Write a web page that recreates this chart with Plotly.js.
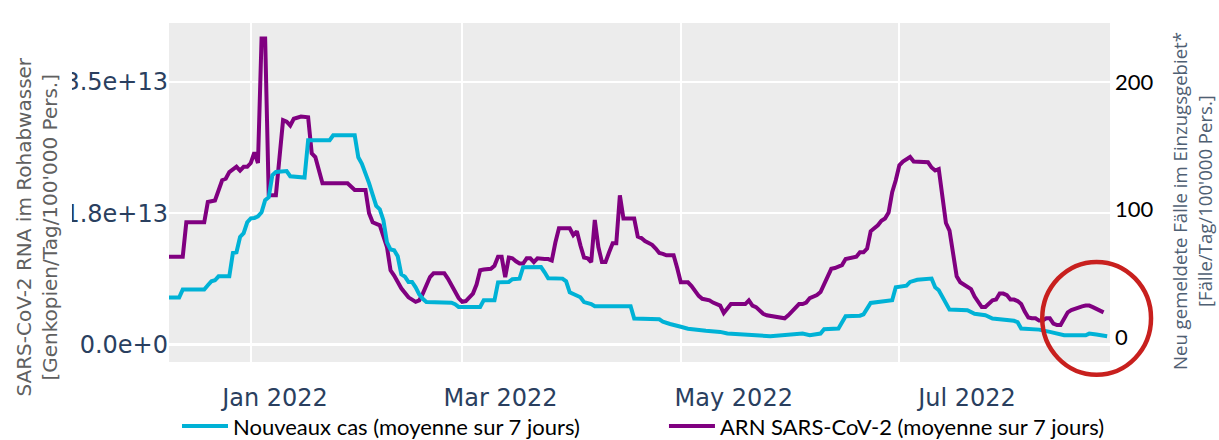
<!DOCTYPE html>
<html>
<head>
<meta charset="utf-8">
<script src="https://cdn.plot.ly/plotly-3.0.1.min.js"></script>
<style>html,body{margin:0;padding:0;background:#fff;}#chart{width:1219px;height:440px;}</style>
</head>
<body>
<div id="chart"></div>
<script>
// ---- Data ----
const casesDates = ['2021-12-09','2021-12-12','2021-12-13','2021-12-19','2021-12-20','2021-12-21','2021-12-22','2021-12-23','2021-12-26','2021-12-27','2021-12-28','2021-12-29','2021-12-30','2021-12-31',
'2022-01-01','2022-01-02','2022-01-03','2022-01-04','2022-01-05','2022-01-06','2022-01-07','2022-01-08','2022-01-11','2022-01-12','2022-01-16','2022-01-17','2022-01-23','2022-01-24','2022-01-30','2022-01-31',
'2022-02-01','2022-02-02','2022-02-03','2022-02-04','2022-02-05','2022-02-06','2022-02-07','2022-02-08','2022-02-09','2022-02-10','2022-02-11','2022-02-12','2022-02-13','2022-02-14','2022-02-15','2022-02-16','2022-02-17','2022-02-18','2022-02-19','2022-02-26','2022-02-27','2022-02-28',
'2022-03-06','2022-03-07','2022-03-10','2022-03-11','2022-03-14','2022-03-15','2022-03-17','2022-03-18','2022-03-23','2022-03-24','2022-03-25','2022-03-29','2022-03-30','2022-03-31',
'2022-04-01','2022-04-02','2022-04-03','2022-04-04','2022-04-05','2022-04-06','2022-04-07','2022-04-17','2022-04-18','2022-04-24','2022-04-25','2022-04-26','2022-04-27','2022-04-28',
'2022-05-01','2022-05-03','2022-05-08','2022-05-12','2022-05-14','2022-05-26',
'2022-06-04','2022-06-06','2022-06-09','2022-06-10','2022-06-14','2022-06-16','2022-06-20','2022-06-21','2022-06-23','2022-06-27','2022-06-29','2022-06-30',
'2022-07-03','2022-07-04','2022-07-06','2022-07-10','2022-07-11','2022-07-12','2022-07-13','2022-07-14','2022-07-15','2022-07-20','2022-07-22','2022-07-25','2022-07-27',
'2022-08-02','2022-08-03','2022-08-04','2022-08-09','2022-08-12','2022-08-16','2022-08-22','2022-08-23','2022-08-25','2022-08-27','2022-08-28'];
const casesValues = [31.1,31.1,37.4,37.4,40.8,43.9,44.7,47.8,47.8,66.1,66.7,78.7,81.6,90.2,
93.3,93.6,94.9,98.0,107.5,109.8,127.0,129.6,130.4,126.3,125.3,154.5,154.5,158.4,158.4,141.2,
136.1,129.4,120.9,111.9,103.0,100.4,91.8,74.5,68.8,68.2,63.5,49.4,47.5,43.4,43.4,39.2,33.7,30.2,27.7,27.1,25.9,23.8,
23.8,29.0,29.0,43.1,43.4,45.5,46.0,54.9,55.1,51.0,46.3,46.0,43.9,35.3,
34.1,33.3,31.4,27.6,27.1,26.1,24.3,24.3,14.7,14.7,14.1,12.2,11.2,10.4,
8.2,6.7,5.1,4.2,2.9,0.8,
2.9,1.6,2.9,6.3,6.8,16.5,16.9,18.0,26.9,28.6,29.0,39.2,
40.5,43.4,45.1,46.0,39.2,36.9,32.2,26.7,21.7,21.2,18.4,17.3,14.7,
12.9,11.8,6.8,6.0,4.2,1.6,1.6,2.9,2.1,1.6,0.8];

const rnaDates = ['2021-12-09','2021-12-13','2021-12-14','2021-12-19','2021-12-20','2021-12-22','2021-12-24','2021-12-25','2021-12-26','2021-12-28','2021-12-29','2021-12-30','2021-12-31',
'2022-01-01','2022-01-02','2022-01-03','2022-01-04','2022-01-05','2022-01-06','2022-01-08','2022-01-10','2022-01-11','2022-01-12','2022-01-13','2022-01-15','2022-01-17','2022-01-18','2022-01-19','2022-01-21','2022-01-28','2022-01-30',
'2022-02-02','2022-02-03','2022-02-04','2022-02-06','2022-02-07','2022-02-08','2022-02-09','2022-02-10','2022-02-12','2022-02-13','2022-02-14','2022-02-16','2022-02-17','2022-02-18','2022-02-20','2022-02-21',
'2022-02-24','2022-02-25','2022-02-26','2022-02-27','2022-02-28',
'2022-03-01','2022-03-02','2022-03-03','2022-03-04','2022-03-05','2022-03-06','2022-03-07','2022-03-08','2022-03-09','2022-03-10','2022-03-11','2022-03-12','2022-03-13','2022-03-14','2022-03-15','2022-03-16','2022-03-17','2022-03-18','2022-03-19','2022-03-20','2022-03-21','2022-03-22','2022-03-23','2022-03-24','2022-03-25','2022-03-26','2022-03-27','2022-03-28','2022-03-29','2022-03-30','2022-03-31',
'2022-04-01','2022-04-02','2022-04-03','2022-04-04','2022-04-05','2022-04-06','2022-04-07','2022-04-08','2022-04-09','2022-04-10','2022-04-11','2022-04-12','2022-04-13','2022-04-14','2022-04-15','2022-04-16','2022-04-17','2022-04-18','2022-04-19','2022-04-20','2022-04-21','2022-04-22','2022-04-23','2022-04-24','2022-04-25','2022-04-26','2022-04-27','2022-04-28','2022-04-29','2022-04-30',
'2022-05-01','2022-05-02','2022-05-03','2022-05-04','2022-05-05','2022-05-06','2022-05-07','2022-05-08','2022-05-09','2022-05-10','2022-05-11','2022-05-12','2022-05-13','2022-05-14','2022-05-15','2022-05-16','2022-05-17','2022-05-18','2022-05-19','2022-05-20','2022-05-21','2022-05-22','2022-05-23','2022-05-24','2022-05-25','2022-05-26','2022-05-27','2022-05-28','2022-05-29','2022-05-30','2022-05-31',
'2022-06-01','2022-06-02','2022-06-03','2022-06-04','2022-06-05','2022-06-06','2022-06-07','2022-06-08','2022-06-09','2022-06-10','2022-06-11','2022-06-12','2022-06-13','2022-06-14','2022-06-15','2022-06-16','2022-06-17','2022-06-18','2022-06-19','2022-06-20','2022-06-21','2022-06-22','2022-06-23','2022-06-24','2022-06-25','2022-06-26','2022-06-27','2022-06-28','2022-06-29','2022-06-30',
'2022-07-01','2022-07-02','2022-07-03','2022-07-04','2022-07-05','2022-07-06','2022-07-07','2022-07-08','2022-07-09','2022-07-10','2022-07-11','2022-07-12','2022-07-13','2022-07-14','2022-07-15','2022-07-16','2022-07-17','2022-07-18','2022-07-19','2022-07-20','2022-07-21','2022-07-22','2022-07-23','2022-07-24','2022-07-25','2022-07-26','2022-07-27','2022-07-28','2022-07-29','2022-07-30','2022-07-31',
'2022-08-01','2022-08-02','2022-08-03','2022-08-04','2022-08-05','2022-08-06','2022-08-07','2022-08-08','2022-08-09','2022-08-10','2022-08-11','2022-08-12','2022-08-13','2022-08-14','2022-08-15','2022-08-16','2022-08-17','2022-08-18','2022-08-19','2022-08-20','2022-08-21','2022-08-22','2022-08-23','2022-08-24','2022-08-25','2022-08-26','2022-08-27'];
const rnaValues = [1.17e13,1.17e13,1.63e13,1.63e13,1.90e13,1.92e13,2.19e13,2.21e13,2.30e13,2.37e13,2.32e13,2.37e13,2.37e13,
2.42e13,2.56e13,2.42e13,4.08e13,4.08e13,1.99e13,1.99e13,2.99e13,2.97e13,2.92e13,3.01e13,3.04e13,3.03e13,2.55e13,2.50e13,2.15e13,2.15e13,2.06e13,
2.06e13,1.75e13,1.63e13,1.59e13,1.43e13,1.30e13,0.99e13,0.92e13,0.75e13,0.68e13,0.63e13,0.57e13,0.59e13,0.68e13,0.90e13,0.95e13,
0.95e13,0.88e13,0.79e13,0.69e13,0.62e13,
0.57e13,0.58e13,0.63e13,0.68e13,0.80e13,0.99e13,1.00e13,1.01e13,1.01e13,1.05e13,1.17e13,1.17e13,0.90e13,1.16e13,1.15e13,1.11e13,1.08e13,1.08e13,1.15e13,1.15e13,1.10e13,1.15e13,1.14e13,1.14e13,1.14e13,1.12e13,1.36e13,1.55e13,1.55e13,1.55e13,1.55e13,
1.46e13,1.51e13,1.32e13,1.16e13,1.15e13,1.10e13,1.66e13,1.30e13,1.10e13,1.10e13,1.23e13,1.35e13,1.35e13,1.99e13,1.68e13,1.68e13,1.68e13,1.68e13,1.44e13,1.42e13,1.38e13,1.36e13,1.33e13,1.28e13,1.22e13,1.21e13,1.19e13,1.19e13,1.19e13,1.02e13,
0.83e13,0.83e13,0.83e13,0.78e13,0.71e13,0.65e13,0.61e13,0.60e13,0.59e13,0.56e13,0.54e13,0.52e13,0.42e13,0.48e13,0.54e13,0.54e13,0.54e13,0.54e13,0.54e13,0.59e13,0.52e13,0.50e13,0.46e13,0.41e13,0.39e13,0.38e13,0.38e13,0.37e13,0.36e13,0.35e13,0.39e13,
0.44e13,0.50e13,0.54e13,0.54e13,0.56e13,0.62e13,0.64e13,0.66e13,0.70e13,0.80e13,0.91e13,1.01e13,1.02e13,1.04e13,1.06e13,1.14e13,1.15e13,1.16e13,1.17e13,1.23e13,1.23e13,1.28e13,1.51e13,1.55e13,1.59e13,1.65e13,1.68e13,1.76e13,2.03e13,2.19e13,
2.39e13,2.44e13,2.47e13,2.50e13,2.44e13,2.44e13,2.44e13,2.44e13,2.43e13,2.36e13,2.32e13,2.34e13,1.95e13,1.62e13,1.52e13,1.19e13,0.91e13,0.83e13,0.80e13,0.78e13,0.74e13,0.64e13,0.56e13,0.50e13,0.50e13,0.54e13,0.59e13,0.60e13,0.68e13,0.68e13,0.66e13,
0.60e13,0.60e13,0.58e13,0.54e13,0.44e13,0.36e13,0.35e13,0.35e13,0.32e13,0.32e13,0.35e13,0.35e13,0.28e13,0.26e13,0.26e13,0.35e13,0.43e13,0.46e13,0.48e13,0.50e13,0.51e13,0.52e13,0.52e13,0.50e13,0.48e13,0.45e13,0.43e13];

const gridMonths = ['2022-01-01','2022-03-01','2022-05-01','2022-07-01'];
const rnaTicks = [0, 1.75e13, 3.5e13];
const casesTicks = [0, 100, 200];
const casesName = 'Nouveaux cas (moyenne sur 7 jours)';
const rnaName = 'ARN SARS-CoV-2 (moyenne sur 7 jours)';
const leftTitle = 'SARS-CoV-2 RNA im Rohabwasser<br>[Genkopien/Tag/100\'000 Pers.]';
const rightTitle = 'Neu gemeldete Fälle im Einzugsgebiet*<br>[Fälle/Tag/100\'000 Pers.]';

// ---- Plot ----
const traces = [
  {x: rnaDates, y: rnaValues, name: rnaName, type: 'scatter', mode: 'lines', xaxis: 'x', yaxis: 'y',
   line: {color: '#800080', width: 4}, legend: 'legend2', hoverinfo: 'skip'},
  {x: casesDates, y: casesValues, name: casesName, type: 'scatter', mode: 'lines', xaxis: 'x', yaxis: 'y2',
   line: {color: '#00b2d6', width: 4}, legend: 'legend', hoverinfo: 'skip'},
  {x: gridMonths, y: gridMonths.map(() => null), xaxis: 'x2', yaxis: 'y', showlegend: false, hoverinfo: 'skip', mode: 'lines'}
];

const tickFont = {family: 'DejaVu Sans', size: 24, color: '#2a3f5f'};
const legendFont = {family: 'Lato', size: 22, color: '#000000'};
const layout = {
  width: 1219, height: 440,
  margin: {l: 169, r: 109, t: 23, b: 78, pad: 0, autoexpand: false},
  paper_bgcolor: '#ffffff', plot_bgcolor: '#ececec',
  font: {family: 'DejaVu Sans', color: '#2a3f5f'},
  xaxis: {type: 'date', range: ['2021-12-09 04:00', '2022-08-28 19:00'], tickvals: gridMonths,
          showticklabels: false, showgrid: true, gridcolor: '#ffffff', gridwidth: 2, zeroline: false, showline: false, ticks: ''},
  xaxis2: {type: 'date', overlaying: 'x', anchor: 'y', side: 'bottom', range: ['2021-12-04 06:30', '2022-08-07 10:00'],
           tickvals: gridMonths, tickformat: '%b %Y', showgrid: false, zeroline: false, showline: false,
           ticks: 'outside', ticklen: 14, tickcolor: 'rgba(0,0,0,0)', tickfont: tickFont},
  yaxis: {range: [-0.232e13, 4.286e13], tickvals: rnaTicks, tickformat: '.1e', gridcolor: '#ffffff', gridwidth: 2,
          zeroline: true, zerolinecolor: '#ffffff', zerolinewidth: 3, showline: false, ticks: '', tickfont: tickFont},
  yaxis2: {overlaying: 'y', side: 'right', anchor: 'x', range: [-19.4, 246.5], tickvals: casesTicks,
           showgrid: false, zeroline: false, showline: false, ticks: '', ticklabelstandoff: 4,
           tickfont: {family: 'Lato', size: 22, color: '#000000'}},
  showlegend: true,
  legend: {orientation: 'h', xref: 'paper', yref: 'paper', x: 0.0085, y: -0.1897, xanchor: 'left', yanchor: 'middle',
           bgcolor: 'rgba(0,0,0,0)', font: legendFont, itemwidth: 46},
  legend2: {orientation: 'h', xref: 'paper', yref: 'paper', x: 0.526, y: -0.1897, xanchor: 'left', yanchor: 'middle',
           bgcolor: 'rgba(0,0,0,0)', font: legendFont, itemwidth: 46},
  annotations: [
    {text: leftTitle, textangle: -90, xref: 'paper', yref: 'paper', x: -0.1397, y: 0.398, xanchor: 'center', yanchor: 'middle',
     showarrow: false, font: {family: 'DejaVu Sans', size: 20, color: '#606060'}, bgcolor: '#ffffff', borderpad: 9},
    {text: rightTitle, textangle: -90, xref: 'paper', yref: 'paper', x: 1.0874, y: 0.4755, xanchor: 'center', yanchor: 'middle',
     showarrow: false, font: {family: 'Open Sans', size: 18.6, color: '#4f6073'}}
  ],
  shapes: [
    {type: 'circle', xref: 'paper', yref: 'paper', x0: 0.928, x1: 1.0436, y0: -0.0375, y1: 0.2953,
     line: {color: '#c8201e', width: 4.5}, layer: 'above'}
  ]
};

Plotly.newPlot('chart', traces, layout, {displayModeBar: false, staticPlot: true});
</script>
</body>
</html>
